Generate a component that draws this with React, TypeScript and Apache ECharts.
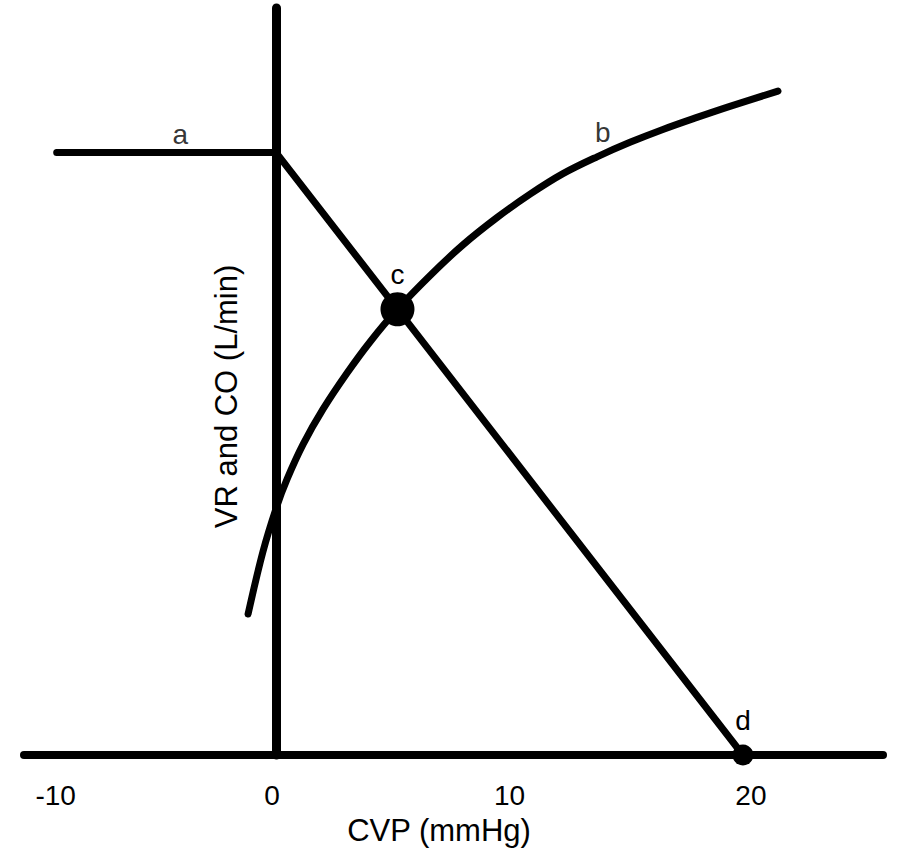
import React, { useEffect, useRef } from "react";
import * as echarts from "echarts";

// x-axis tick labels (mmHg)
const xTicks = [-10, 0, 10, 20];

// Venous return curve (a): plateau then linear fall to mean systemic filling pressure
const vrX = [-9.4, 0, 20];
const vrY = [5, 5, 0];

// Cardiac output (Frank-Starling) curve (b)
const coX = [-1.2, -0.56, 0.04, 0.47, 1.16, 2.01, 3.04, 4.03, 5.2, 6.6, 8.01, 9.46, 10.88, 12.29, 13.75, 15.16, 16.57, 18.03, 19.44, 21.5];
const coY = [1.17, 1.69, 2.07, 2.29, 2.58, 2.87, 3.17, 3.43, 3.7, 3.98, 4.235, 4.46, 4.655, 4.825, 4.965, 5.085, 5.192, 5.292, 5.384, 5.51];

// Marked points: c = equilibrium, d = mean systemic filling pressure
const pointNames = ["c", "d"];
const pointX = [5.2, 20];
const pointY = [3.7, 0];

// Curve labels placed on the curves
const curveLabelNames = ["a", "b"];
const curveLabelX = [-4.1, 14.0];
const curveLabelY = [5, 4.985];

const FONT = "'Liberation Sans', Arial, Helvetica, sans-serif";
const FS = 28;
const NAME_FS = 31;

const tickRich = (pad: number[]) => ({
  color: "#000",
  fontSize: FS,
  fontFamily: FONT,
  padding: pad,
});

export default function App() {
  const ref = useRef<HTMLDivElement>(null);
  useEffect(() => {
    if (!ref.current) return;
    const chart = echarts.init(ref.current, undefined, { renderer: "svg" });
    const option: any = {
      animation: false,
      backgroundColor: "#ffffff",
      grid: {
        left: 24,
        right: 15,
        top: 8,
        bottom: 97,
        containLabel: false,
        outerBoundsMode: "none",
      },
      xAxis: {
        type: "value",
        min: -10.8,
        max: 26,
        name: "CVP (mmHg)",
        nameLocation: "middle",
        nameGap: 60,
        nameTextStyle: { color: "#000", fontSize: NAME_FS, fontFamily: FONT, padding: [0, 29, 0, 0] },
        axisLine: { onZero: true, lineStyle: { color: "#000", width: 8, cap: "round" } },
        axisTick: { show: false },
        splitLine: { show: false },
        axisLabel: {
          customValues: xTicks,
          color: "#000",
          fontSize: FS,
          fontFamily: FONT,
          margin: 26,
          formatter: (v: number) =>
            v === -10 ? `{l|${v}}` : v === 20 ? `{r|${v}}` : v === 0 ? `{z|${v}}` : `{c|${v}}`,
          rich: {
            l: tickRich([0, 0, 0, 26]),
            r: tickRich([0, 0, 0, 16]),
            z: tickRich([0, 8, 0, 0]),
            c: tickRich([0, 0, 0, 0]),
          },
        },
      },
      yAxis: {
        type: "value",
        min: 0,
        max: 6.2,
        position: "left",
        offset: -252,
        name: "VR and CO (L/min)",
        nameLocation: "middle",
        nameRotate: 90,
        nameGap: 34,
        nameMoveOverlap: false,
        nameTextStyle: { color: "#000", fontSize: NAME_FS, fontFamily: FONT, padding: [0, 30, 0, 0] },
        axisLine: { onZero: false, lineStyle: { color: "#000", width: 9, cap: "round" } },
        axisTick: { show: false },
        axisLabel: { show: false },
        splitLine: { show: false },
      },
      series: [
        {
          name: "VR",
          type: "line",
          data: vrX.map((x, i) => [x, vrY[i]]),
          symbol: "none",
          lineStyle: { color: "#000", width: 7, cap: "round", join: "round" },
          z: 3,
        },
        {
          name: "CO",
          type: "line",
          smooth: 0.35,
          data: coX.map((x, i) => [x, coY[i]]),
          symbol: "none",
          lineStyle: { color: "#000", width: 7, cap: "round", join: "round" },
          z: 3,
        },
        {
          name: "points",
          type: "scatter",
          data: pointNames.map((n, i) => ({
            name: n,
            value: [pointX[i], pointY[i]],
            symbolSize: n === "c" ? 34 : 21,
            label: { distance: n === "c" ? 4 : 10 },
          })),
          itemStyle: { color: "#000", opacity: 1 },
          label: {
            show: true,
            position: "top",
            formatter: "{b}",
            color: "#000",
            fontSize: FS,
            fontFamily: FONT,
          },
          z: 5,
        },
        {
          name: "curveLabels",
          type: "scatter",
          data: curveLabelNames.map((n, i) => ({
            name: n,
            value: [curveLabelX[i], curveLabelY[i]],
            label: { distance: n === "a" ? 4 : 8 },
          })),
          symbolSize: 0,
          itemStyle: { color: "transparent" },
          label: {
            show: true,
            position: "top",
            formatter: "{b}",
            color: "#000",
            fontSize: FS,
            fontFamily: FONT,
          },
          z: 5,
        },
      ],
    };
    chart.setOption(option);
    return () => chart.dispose();
  }, []);
  return (
    <div
      ref={ref}
      style={{ position: "absolute", left: 0, top: 0, width: 898, height: 852 }}
    />
  );
}
